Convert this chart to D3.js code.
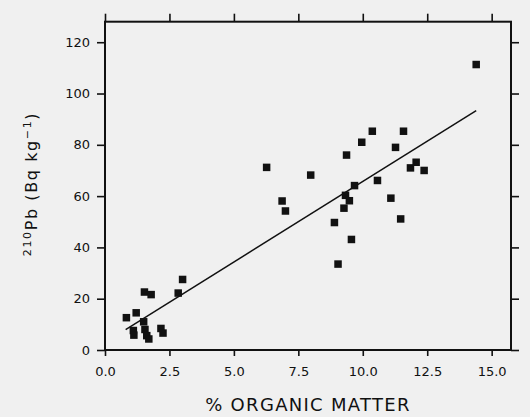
<!DOCTYPE html>
<html>
<head>
<meta charset="utf-8">
<script src="https://cdn.jsdelivr.net/npm/d3@7"></script>
<style>
  html, body { margin: 0; padding: 0; background: #f0f0f0; }
  svg { display: block; }
  text { font-family: "DejaVu Sans", "Liberation Sans", sans-serif; fill: #111; }
</style>
</head>
<body>
<svg id="chart" width="530" height="417"></svg>
<script>
// % organic matter (x) and 210Pb activity in Bq/kg (y) for each sample
const organicMatter = [
  14.40, 10.37, 11.58, 9.96, 11.27, 9.37, 6.27, 7.98, 12.07, 11.85,
  12.38, 10.57, 9.68, 9.33, 9.48, 6.87, 7.00, 9.27, 11.09, 11.47,
  8.90, 9.56, 9.04, 3.01, 2.84, 1.53, 1.79, 0.83, 1.21, 1.50,
  1.10, 1.12, 1.55, 1.62, 1.70, 2.17, 2.25
];
const pb210 = [
  111.3, 85.3, 85.3, 81.0, 79.0, 76.0, 71.2, 68.2, 73.2, 71.0,
  70.0, 66.1, 64.1, 60.3, 58.2, 58.1, 54.2, 55.3, 59.2, 51.1,
  49.7, 43.1, 33.5, 27.5, 22.2, 22.6, 21.6, 12.6, 14.5, 11.0,
  7.6, 5.8, 8.0, 5.6, 4.3, 8.4, 6.6
];

// Axis ticks
const xTicks = [0, 2.5, 5, 7.5, 10, 12.5, 15];
const yTicks = [0, 20, 40, 60, 80, 100, 120];
const xDomain = [0, 15.75];
const yDomain = [0, 128];

// Least-squares fit line: y = intercept + slope * x over the sampled range
const fitIntercept = 2.9;
const fitSlope = 6.28;
const fitRange = [0.8, 14.4];

const svg = d3.select("#chart");
const W = 530, H = 417;
const margin = { top: 21.7, right: 19, bottom: 67, left: 105 };
const iw = W - margin.left - margin.right;
const ih = H - margin.top - margin.bottom;

svg.append("rect").attr("width", W).attr("height", H).attr("fill", "#f0f0f0");

const x = d3.scaleLinear().domain(xDomain).range([0, iw]);
const y = d3.scaleLinear().domain(yDomain).range([ih, 0]);

const g = svg.append("g").attr("transform", `translate(${margin.left},${margin.top})`);

const axisStyle = sel => {
  sel.select(".domain").remove();
  sel.selectAll(".tick line").attr("stroke", "#111").attr("stroke-width", 1.6);
  sel.selectAll(".tick text")
    .attr("font-size", 13)
    .attr("fill", "#111")
    .attr("font-family", "DejaVu Sans, sans-serif");
};

// Bottom axis
g.append("g")
  .attr("transform", `translate(0,${ih})`)
  .call(d3.axisBottom(x).tickValues(xTicks).tickFormat(d3.format(".1f")).tickSize(6).tickPadding(11))
  .call(axisStyle);

// Left axis
g.append("g")
  .call(d3.axisLeft(y).tickValues(yTicks).tickFormat(d3.format("d")).tickSize(8).tickPadding(7))
  .call(axisStyle);

// Top and right ticks without labels
g.append("g")
  .call(d3.axisTop(x).tickValues(xTicks).tickFormat("").tickSize(8))
  .call(axisStyle);
g.append("g")
  .attr("transform", `translate(${iw},0)`)
  .call(d3.axisRight(y).tickValues(yTicks).tickFormat("").tickSize(8))
  .call(axisStyle);

// Plot frame
g.append("rect")
  .attr("x", 0).attr("y", 0).attr("width", iw).attr("height", ih)
  .attr("fill", "none").attr("stroke", "#111").attr("stroke-width", 2);

// Regression line
g.append("line")
  .attr("x1", x(fitRange[0])).attr("y1", y(fitIntercept + fitSlope * fitRange[0]))
  .attr("x2", x(fitRange[1])).attr("y2", y(fitIntercept + fitSlope * fitRange[1]))
  .attr("stroke", "#111").attr("stroke-width", 1.5);

// Sample points as filled squares
const sq = 7.5;
const points = organicMatter.map((v, i) => ({ om: v, pb: pb210[i] }));
g.append("g").selectAll("rect")
  .data(points)
  .join("rect")
  .attr("x", d => x(d.om) - sq / 2)
  .attr("y", d => y(d.pb) - sq / 2)
  .attr("width", sq).attr("height", sq)
  .attr("fill", "#111");

// X axis title
svg.append("text")
  .attr("x", margin.left + iw / 2)
  .attr("y", 411)
  .attr("text-anchor", "middle")
  .attr("font-size", 18)
  .attr("letter-spacing", 1.3)
  .text("% ORGANIC MATTER");

// Y axis title with superscripts
const yt = svg.append("text")
  .attr("transform", "translate(37,184) rotate(-90)")
  .attr("text-anchor", "middle")
  .attr("font-size", 16)
  .attr("letter-spacing", 1.6);
yt.append("tspan").attr("font-size", 11).attr("dy", -6).text("210");
yt.append("tspan").attr("dy", 6).text("Pb (Bq kg");
yt.append("tspan").attr("font-size", 11).attr("dy", -6).text("\u22121");
yt.append("tspan").attr("dy", 6).text(")");
</script>
</body>
</html>
